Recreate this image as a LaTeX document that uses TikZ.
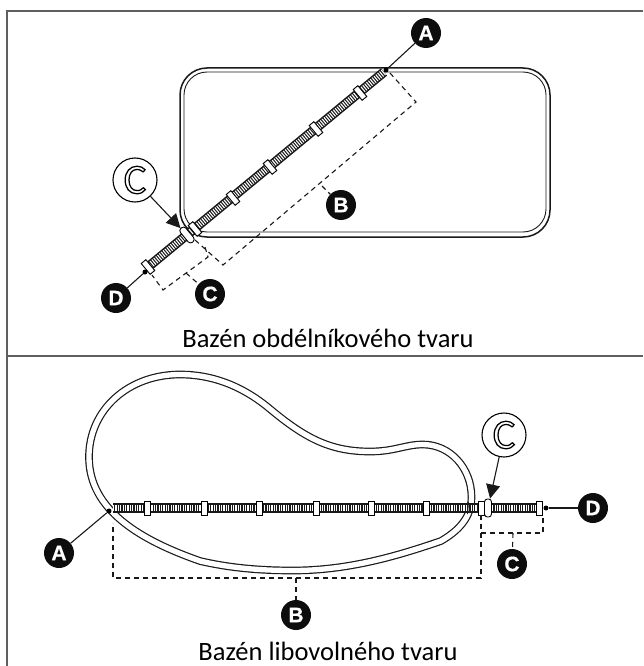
\documentclass[tikz,border=0pt]{standalone}
\usepackage{fontspec}
\setmainfont{Carlito}
\newfontfamily\badgefont{Liberation Sans}[BoldFont={Liberation Sans Bold},BoldFeatures={FakeBold=0.6}]
\newfontfamily\lensfont{Carlito}[FakeBold=3]
\usetikzlibrary{arrows.meta}
\definecolor{framegray}{HTML}{5F5F5F}
\tikzstyle{frameline}=[draw=framegray,line width=1.6pt]
\tikzstyle{wallout}=[draw=black!90,line width=1.5pt]
\tikzstyle{wallin}=[draw=black!90,line width=0.9pt]
\tikzstyle{wallfree}=[draw=black!90,line width=1.2pt,double=white,double distance=5.3pt]
\tikzstyle{hosebody}=[draw=black!90,line width=9.5pt]
\tikzstyle{hoserib}=[draw=white,line width=6.5pt,dash pattern=on 1.1pt off 1.3pt]
\tikzstyle{collar}=[draw=black,fill=white,line width=0.9pt,minimum width=6pt,minimum height=14pt,inner sep=0pt]
\tikzstyle{bigcollar}=[collar,rounded corners=3pt,minimum height=18pt,minimum width=7pt]
\tikzstyle{measure}=[draw=black!90,line width=1.1pt,dash pattern=on 5pt off 4pt]
\tikzstyle{leader}=[draw=black!90,line width=1.1pt]
\tikzstyle{badge}=[circle,fill=black!95,text=white,minimum size=30pt,inner sep=0pt,font=\badgefont\bfseries\fontsize{21}{21}\selectfont]
\tikzstyle{lens}=[circle,draw=black,fill=white,line width=1.1pt,minimum size=44pt,inner sep=0pt,font=\lensfont\fontsize{42}{42}\selectfont]
\tikzstyle{tip}=[circle,fill=black,minimum size=5pt,inner sep=0pt]
\tikzstyle{caption}=[font=\fontsize{26.5}{26.5}\selectfont,anchor=base,inner sep=0pt]
\newcommand{\lensC}{\color{white}\special{pdf:code 0 0 0 RG}C}

\begin{document}
\begin{tikzpicture}[x=1pt,y=-1pt]
  \useasboundingbox (0,0) rectangle (643,666);
  % frame
  \coordinate (ftl) at (7,11);
  \coordinate (ftr) at (643,11);
  \coordinate (fbl) at (7,666);
  \coordinate (fml) at (7,356);
  \coordinate (fmr) at (643,356);
  \draw[frameline] (ftr) -- (ftl) -- (fbl);
  \draw[frameline] (fml) -- (fmr);
  % rectangular pool
  \draw[wallout,rounded corners=27pt] (180,68) rectangle (550,237);
  \draw[wallin,rounded corners=23pt] (184,72) rectangle (546,232);
  \coordinate (hta) at (384,72);
  \coordinate (htd) at (148,267);
  \draw[hosebody] (htd) -- (hta);
  \draw[hoserib] (htd) -- (hta);
  \foreach \cx/\cy in {148/267,195/229,233/198,270/167,316/129,360/93}
    \node[collar,rotate=39.6] at (\cx,\cy) {};
  \node[bigcollar,rotate=39.6] (cta) at (187,235) {};
  \node[tip] (dta) at (386,70) {};
  \node[tip] (dtd) at (145,272) {};
  \node[badge] (ba) at (426,33) {A};
  \node[badge] (bb) at (341,205) {B};
  \node[badge] (bc) at (210,294) {C};
  \node[badge] (bd) at (116,298) {D};
  \node[lens] (la) at (135,180) {\lensC};
  \draw[leader] (dta) -- (ba);
  \draw[leader] (dtd) -- (bd);
  \draw[leader,-{Triangle[length=14pt,width=14pt]}] (la) -- (cta);
  \draw[measure] (390,73) -- (416,102) -- (223,265) -- (195,240);
  \draw[measure] (205,247) -- (208,257) -- (163,290) -- (152,275);
  \coordinate (mtb) at (322,186);
  \coordinate (mtc) at (186,273);
  \draw[measure] (mtb) -- (bb);
  \draw[measure] (mtc) -- (bc);
  \node[caption] (ca) at (328,347) {Bazén obdélníkového tvaru};
  % free form pool
  \draw[wallfree] (180,374.5) .. controls (128,374.5) and (89,410) .. (89,457)
    .. controls (89,510) and (140,540) .. (200,561)
    .. controls (230,568) and (260,570.5) .. (293,570.5)
    .. controls (350,570.5) and (400,555) .. (441,541)
    .. controls (458,531) and (471.5,518) .. (471.5,497)
    .. controls (471.5,468) and (450,444.5) .. (423,444.5)
    .. controls (405,444.5) and (395,451.5) .. (370,451.5)
    .. controls (330,451.5) and (305,438) .. (270,409)
    .. controls (245,388) and (215,374.5) .. (180,374.5) -- cycle;
  \coordinate (hfa) at (113,508);
  \coordinate (hfd) at (539,508);
  \draw[hosebody] (hfa) -- (hfd);
  \draw[hoserib] (hfa) -- (hfd);
  \coordinate (wia) at (468.5,502);
  \coordinate (wib) at (467.5,514);
  \draw[wallin] (wia) -- (wib);
  \foreach \cx in {147,204,259,316,371,426,481,539}
    \node[collar] at (\cx,508) {};
  \node[bigcollar] (cfa) at (488,508) {};
  \node[tip] (dfa) at (109,511) {};
  \node[tip] (dfd) at (546,508) {};
  \node[badge] (fba) at (59,553) {A};
  \node[badge] (fbb) at (296,615) {B};
  \node[badge] (fbc) at (512,564) {C};
  \node[badge] (fbd) at (593,508) {D};
  \node[lens] (fla) at (504,435) {\lensC};
  \draw[leader] (dfa) -- (fba);
  \draw[leader] (dfd) -- (fbd);
  \draw[leader,-{Triangle[length=14pt,width=14pt]}] (fla) -- (cfa);
  \draw[measure] (481,515) -- (481,578) -- (113,578) -- (113,523);
  \draw[measure] (481,533) -- (543,533) -- (543,517);
  \coordinate (mfb) at (296,578);
  \coordinate (mfc) at (513,533);
  \draw[measure] (mfb) -- (fbb);
  \draw[measure] (mfc) -- (fbc);
  \node[caption] (cb) at (328,660) {Bazén libovolného tvaru};
\end{tikzpicture}
\end{document}
